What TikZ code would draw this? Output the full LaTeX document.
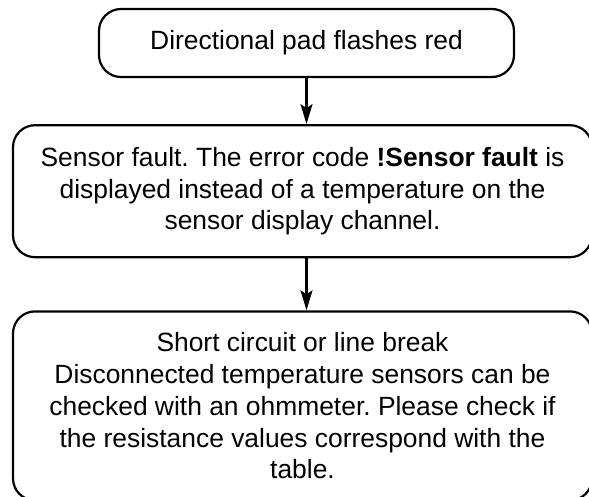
\documentclass[tikz,border=0pt]{standalone}
\usepackage{fontspec}
\setmainfont{Liberation Sans}
\usetikzlibrary{arrows.meta, positioning}
\frenchspacing

\begin{document}
\begin{tikzpicture}[
  >={Stealth[length=20pt,width=12pt,inset=4pt]}, line width=2.2pt,
  box/.style = {draw, rectangle, rounded corners=22pt, align=center,
                inner sep=0pt, font=\fontsize{26.4}{31.7}\selectfont},
]
  \useasboundingbox (0pt,0pt) rectangle (589pt,-497pt);

  \node[box, minimum width=415pt, minimum height=68pt]  (pad)   at (306.5pt,-43pt)
      {Directional pad flashes red};
  \node[box, below=46pt of pad, xshift=-4pt, minimum width=579pt, minimum height=132pt] (fault)
      {Sensor fault. The error code \textbf{!Sensor fault} is\\
       displayed instead of a temperature on the\\
       sensor display channel.};
  \node[box, below=52pt of fault, minimum width=579pt, minimum height=189pt] (check)
      {Short circuit or line break\\
       Disconnected temperature sensors can be\\
       checked with an ohmmeter. Please check if\\
       the resistance values correspond with the\\
       table.};

  \draw[->] (pad.south) -- (pad.south |- fault.north);
  \draw[->] (pad.south |- fault.south) -- (pad.south |- check.north);
\end{tikzpicture}
\end{document}
